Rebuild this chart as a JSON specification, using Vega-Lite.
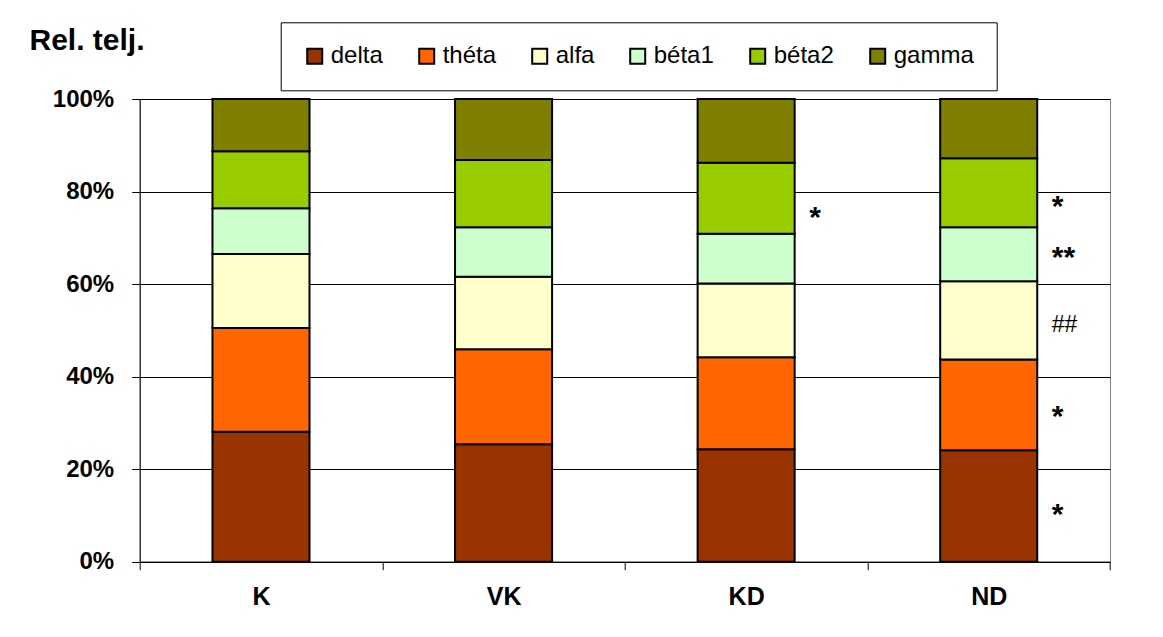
{
  "$schema": "https://vega.github.io/schema/vega-lite/v6.json",
  "autosize": {"type": "none"},
  "width": 970.3,
  "height": 462.7,
  "padding": {"left": 139.7, "top": 99, "right": 53, "bottom": 75.3},
  "background": "white",
  "config": {
    "font": "Liberation Sans",
    "view": {"stroke": "#808080", "strokeWidth": 1}
  },
  "datasets": {
    "bars": [
      {"group": "K", "band": "delta", "k": 1, "value": 28.1},
      {"group": "K", "band": "théta", "k": 2, "value": 22.4},
      {"group": "K", "band": "alfa", "k": 3, "value": 16.0},
      {"group": "K", "band": "béta1", "k": 4, "value": 9.9},
      {"group": "K", "band": "béta2", "k": 5, "value": 12.3},
      {"group": "K", "band": "gamma", "k": 6, "value": 11.3},
      {"group": "VK", "band": "delta", "k": 1, "value": 25.4},
      {"group": "VK", "band": "théta", "k": 2, "value": 20.5},
      {"group": "VK", "band": "alfa", "k": 3, "value": 15.7},
      {"group": "VK", "band": "béta1", "k": 4, "value": 10.7},
      {"group": "VK", "band": "béta2", "k": 5, "value": 14.5},
      {"group": "VK", "band": "gamma", "k": 6, "value": 13.2},
      {"group": "KD", "band": "delta", "k": 1, "value": 24.3},
      {"group": "KD", "band": "théta", "k": 2, "value": 19.9},
      {"group": "KD", "band": "alfa", "k": 3, "value": 15.9},
      {"group": "KD", "band": "béta1", "k": 4, "value": 10.8},
      {"group": "KD", "band": "béta2", "k": 5, "value": 15.3},
      {"group": "KD", "band": "gamma", "k": 6, "value": 13.8},
      {"group": "ND", "band": "delta", "k": 1, "value": 24.1},
      {"group": "ND", "band": "théta", "k": 2, "value": 19.6},
      {"group": "ND", "band": "alfa", "k": 3, "value": 16.9},
      {"group": "ND", "band": "béta1", "k": 4, "value": 11.7},
      {"group": "ND", "band": "béta2", "k": 5, "value": 14.9},
      {"group": "ND", "band": "gamma", "k": 6, "value": 12.8}
    ],
    "stars": [
      {"group": "KD", "pos": 0.76, "label": "*"},
      {"group": "ND", "pos": 0.784, "label": "*"},
      {"group": "ND", "pos": 0.673, "label": "**"},
      {"group": "ND", "pos": 0.331, "label": "*"},
      {"group": "ND", "pos": 0.119, "label": "*"}
    ],
    "hashes": [
      {"group": "ND", "pos": 0.514, "label": "##"}
    ]
  },
  "encoding": {
    "x": {
      "field": "group",
      "type": "nominal",
      "sort": ["K", "VK", "KD", "ND"],
      "scale": {"paddingInner": 0, "paddingOuter": 0},
      "axis": {
        "title": null,
        "tickBand": "extent",
        "labelAngle": 0,
        "labelFontSize": 25,
        "labelFontWeight": "bold",
        "labelColor": "#000",
        "labelPadding": 15,
        "tickSize": 8,
        "tickColor": "#000",
        "domainColor": "#000",
        "grid": false
      }
    }
  },
  "layer": [
    {
      "data": {"name": "bars"},
      "mark": {"type": "bar", "width": {"band": 0.4}, "stroke": "#000", "strokeWidth": 2},
      "encoding": {
        "y": {
          "field": "value",
          "type": "quantitative",
          "stack": "normalize",
          "scale": {"domain": [0, 1]},
          "title": "Rel. telj.",
          "axis": {
            "values": [0, 0.2, 0.4, 0.6, 0.8, 1],
            "format": ".0%",
            "labelFontSize": 24,
            "labelFontWeight": "bold",
            "labelColor": "#000",
            "labelPadding": 18,
            "tickSize": 8,
            "tickColor": "#000",
            "domainColor": "#000",
            "gridColor": "#000",
            "gridWidth": 1,
            "titleAngle": 0,
            "titleAlign": "left",
            "titleBaseline": "alphabetic",
            "titleX": -110.7,
            "titleY": -50,
            "titleFontSize": 30,
            "titleFontWeight": "bold",
            "titleColor": "#000"
          }
        },
        "color": {
          "field": "band",
          "type": "nominal",
          "scale": {
            "domain": ["delta", "théta", "alfa", "béta1", "béta2", "gamma"],
            "range": ["#993300", "#FF6600", "#FFFFCC", "#CCFFCC", "#99CC00", "#808000"]
          },
          "legend": {
            "title": null,
            "orient": "none",
            "direction": "horizontal",
            "legendX": 141,
            "legendY": -76.7,
            "padding": 22,
            "strokeColor": "#000",
            "fillColor": "white",
            "symbolType": "square",
            "symbolSize": 225,
            "symbolStrokeColor": "#000",
            "symbolStrokeWidth": 2,
            "symbolOpacity": 1,
            "labelFontSize": 24,
            "labelColor": "#000",
            "labelOffset": 4,
            "columnPadding": 31
          }
        },
        "order": {"field": "k", "type": "quantitative"}
      }
    },
    {
      "data": {"name": "stars"},
      "mark": {"type": "text", "align": "left", "baseline": "middle", "dx": 63, "dy": 8, "fontSize": 30, "fontWeight": "bold", "color": "#000"},
      "encoding": {
        "y": {"field": "pos", "type": "quantitative", "title": "Rel. telj."},
        "text": {"field": "label"}
      }
    },
    {
      "data": {"name": "hashes"},
      "mark": {"type": "text", "align": "left", "baseline": "middle", "dx": 63, "dy": 1, "fontSize": 23, "color": "#000"},
      "encoding": {
        "y": {"field": "pos", "type": "quantitative", "title": "Rel. telj."},
        "text": {"field": "label"}
      }
    }
  ]
}
